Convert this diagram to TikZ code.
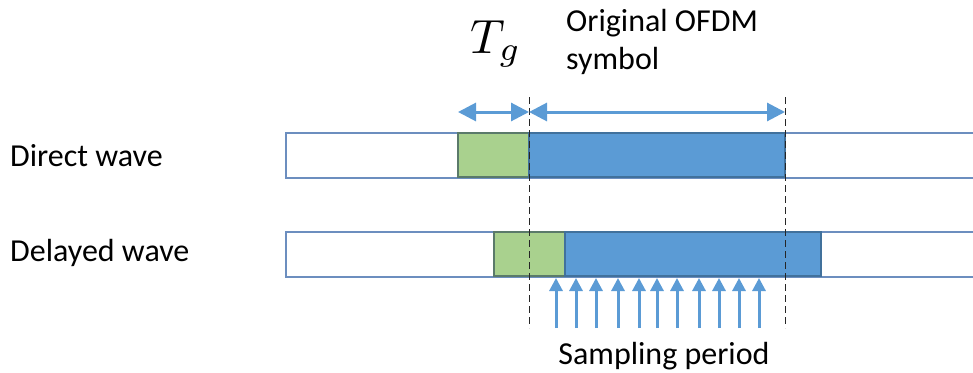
\documentclass[tikz,border=0pt]{standalone}
\usepackage{fontspec}
\setmainfont{Carlito}
\usetikzlibrary{arrows.meta}
\definecolor{symblue}{HTML}{5B9BD5}
\definecolor{symedge}{HTML}{41719C}
\definecolor{guardgreen}{HTML}{A9D18E}
\definecolor{guardedge}{HTML}{5A7A6A}
\definecolor{frameedge}{HTML}{6C8EBF}
\tikzset{
  frameline/.style={draw=frameedge, line width=1.2pt},
  guardbox/.style={fill=guardgreen, draw=guardedge, line width=1.2pt},
  symbox/.style={fill=symblue, draw=symedge, line width=1.2pt},
  spanarrow/.style={symblue, line width=3pt, {Triangle[length=18pt,width=18pt]}-{Triangle[length=18pt,width=18pt]}},
  samplearrow/.style={symblue, line width=3pt, -{Triangle[length=13pt,width=13pt]}},
  boundary/.style={black!85, line width=1pt, dash pattern=on 7pt off 4pt},
  label/.style={font=\fontsize{32}{38}\selectfont, inner sep=0pt},
}
\begin{document}
\begin{tikzpicture}[x=1pt,y=-1pt]
\useasboundingbox (0,0) rectangle (973,372);

% direct wave: frame, guard interval, symbol
\draw[frameline] (973,133) -| (286,178) -- (973,178);
\draw[guardbox] (458,133) rectangle (529,177);
\draw[symbox] (529,133) rectangle (785,177);

% delayed wave
\draw[frameline] (973,232) -| (286,277) -- (973,277);
\draw[guardbox] (494,232) rectangle (565,276);
\draw[symbox] (565,232) rectangle (821,276);

% symbol boundaries
\coordinate (bA1) at (529,97);
\coordinate (bA2) at (529,328);
\coordinate (bB1) at (785,97);
\coordinate (bB2) at (785,328);
\draw[boundary] (bA1) -- (bA2);
\draw[boundary] (bB1) -- (bB2);

% span arrows
\coordinate (g1) at (458,112);
\coordinate (g2) at (529,112);
\coordinate (s2) at (785,112);
\draw[spanarrow] (g1) -- (g2);
\draw[spanarrow] (g2) -- (s2);

% sampling instants
\foreach \x [count=\i] in {556,576,596,618,639,657,677,699,719,739,759}{
  \coordinate (sb\i) at (\x,328);
  \coordinate (st\i) at (\x,278);
  \draw[samplearrow] (sb\i) -- (st\i);
}

% labels
\node[label, anchor=west] (direct) at (10,156) {Direct wave};
\node[label, anchor=west] (delayed) at (10,253) {Delayed wave};
\node[label] (sampling) at (664,356) {Sampling period};
\node[label, anchor=north west, align=left] (orig) at (566,9) {Original OFDM\\symbol};
\node[inner sep=0pt, anchor=west, scale=4.8] (tg) at (470,44) {$T_g$};
\end{tikzpicture}
\end{document}
